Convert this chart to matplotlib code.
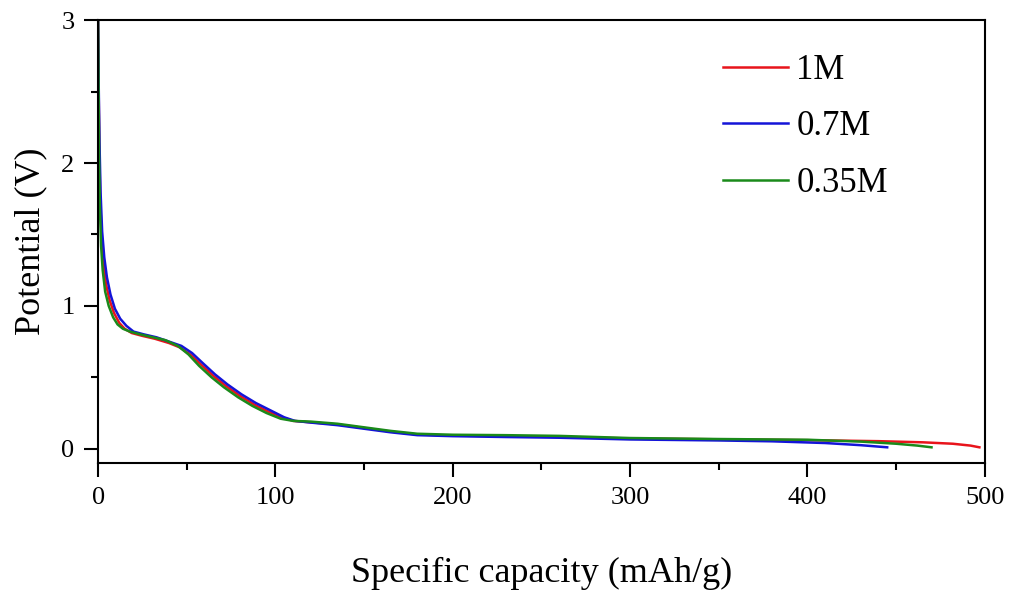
import numpy as np
from matplotlib import pyplot as plt

plt.rcParams['font.family'] = ['Liberation Serif', 'DejaVu Serif']

# 1M
cap_1m = [0, 0.3, 0.7, 1.2, 2, 3, 4.5, 6.5, 9, 12, 15, 19, 25, 32, 40, 46, 52, 58, 65, 72,
          80, 88, 96, 104, 110, 120, 135, 150, 165, 180, 200, 230, 260, 300, 350, 400,
          440, 465, 482, 492, 497]
v_1m = [3.0, 2.55, 2.1, 1.75, 1.48, 1.3, 1.15, 1.04, 0.95, 0.88, 0.84, 0.81, 0.79, 0.77,
        0.74, 0.71, 0.66, 0.59, 0.51, 0.44, 0.37, 0.31, 0.26, 0.22, 0.195, 0.185, 0.17,
        0.145, 0.12, 0.1, 0.092, 0.088, 0.083, 0.072, 0.066, 0.06, 0.053, 0.045, 0.035,
        0.022, 0.01]

# 0.7M
cap_07m = [0, 0.3, 0.8, 1.4, 2.3, 3.5, 5, 7, 9.5, 12.5, 16, 20, 26, 33, 40, 47, 53, 59, 66,
           73, 81, 89, 97, 105, 111, 120, 135, 150, 165, 180, 200, 230, 260, 300, 350,
           380, 410, 430, 445]
v_07m = [3.0, 2.6, 2.15, 1.8, 1.52, 1.34, 1.2, 1.08, 0.98, 0.91, 0.86, 0.82, 0.8, 0.78,
         0.75, 0.72, 0.67, 0.6, 0.52, 0.45, 0.38, 0.32, 0.27, 0.22, 0.195, 0.183, 0.165,
         0.14, 0.115, 0.095, 0.088, 0.082, 0.077, 0.065, 0.058, 0.052, 0.04, 0.025, 0.01]

# 0.35M
cap_035m = [0, 0.3, 0.6, 1.0, 1.7, 2.6, 4, 6, 8.5, 11, 14, 18, 24, 31, 38, 45, 51, 57, 64,
            71, 79, 87, 95, 103, 110, 120, 135, 150, 165, 180, 200, 230, 260, 300, 350,
            400, 430, 450, 462, 470]
v_035m = [3.0, 2.5, 2.05, 1.7, 1.42, 1.25, 1.1, 1.0, 0.92, 0.87, 0.84, 0.82, 0.8, 0.78,
          0.76, 0.72, 0.66, 0.58, 0.5, 0.43, 0.36, 0.3, 0.25, 0.21, 0.195, 0.19, 0.175,
          0.15, 0.125, 0.105, 0.098, 0.095, 0.09, 0.075, 0.068, 0.063, 0.05, 0.035, 0.022,
          0.01]

labels = ['1M', '0.7M', '0.35M']
colors = ['#e8141b', '#1414d8', '#1a8a1a']

fig = plt.figure(figsize=(10.11, 5.94), dpi=100)
ax = fig.add_axes([0.097, 0.2205, 0.877, 0.7455])

ax.plot(cap_1m, v_1m, color=colors[0], lw=1.8, label=labels[0])
ax.plot(cap_07m, v_07m, color=colors[1], lw=1.8, label=labels[1])
ax.plot(cap_035m, v_035m, color=colors[2], lw=1.8, label=labels[2])

ax.set_xlim(0, 500)
ax.set_ylim(-0.1, 3)
ax.set_xticks([0, 100, 200, 300, 400, 500])
ax.set_xticks([50, 150, 250, 350, 450], minor=True)
ax.set_yticks([0, 1, 2, 3])
ax.set_yticks([0.5, 1.5, 2.5], minor=True)
ax.tick_params(which='major', direction='out', length=10, width=1.5, labelsize=19, pad=7)
ax.tick_params(which='minor', direction='out', length=5, width=1.5)
for s in ax.spines.values():
    s.set_linewidth(1.5)

ax.set_xlabel('Specific capacity (mAh/g)', fontsize=26, labelpad=35)
ax.set_ylabel('Potential (V)', fontsize=26, labelpad=10)

ax.legend(loc='upper left', bbox_to_anchor=(0.67, 0.995), frameon=False, fontsize=25,
          handlelength=1.85, handletextpad=0.25, labelspacing=0.68)

fig.savefig('out.png', dpi=100)
